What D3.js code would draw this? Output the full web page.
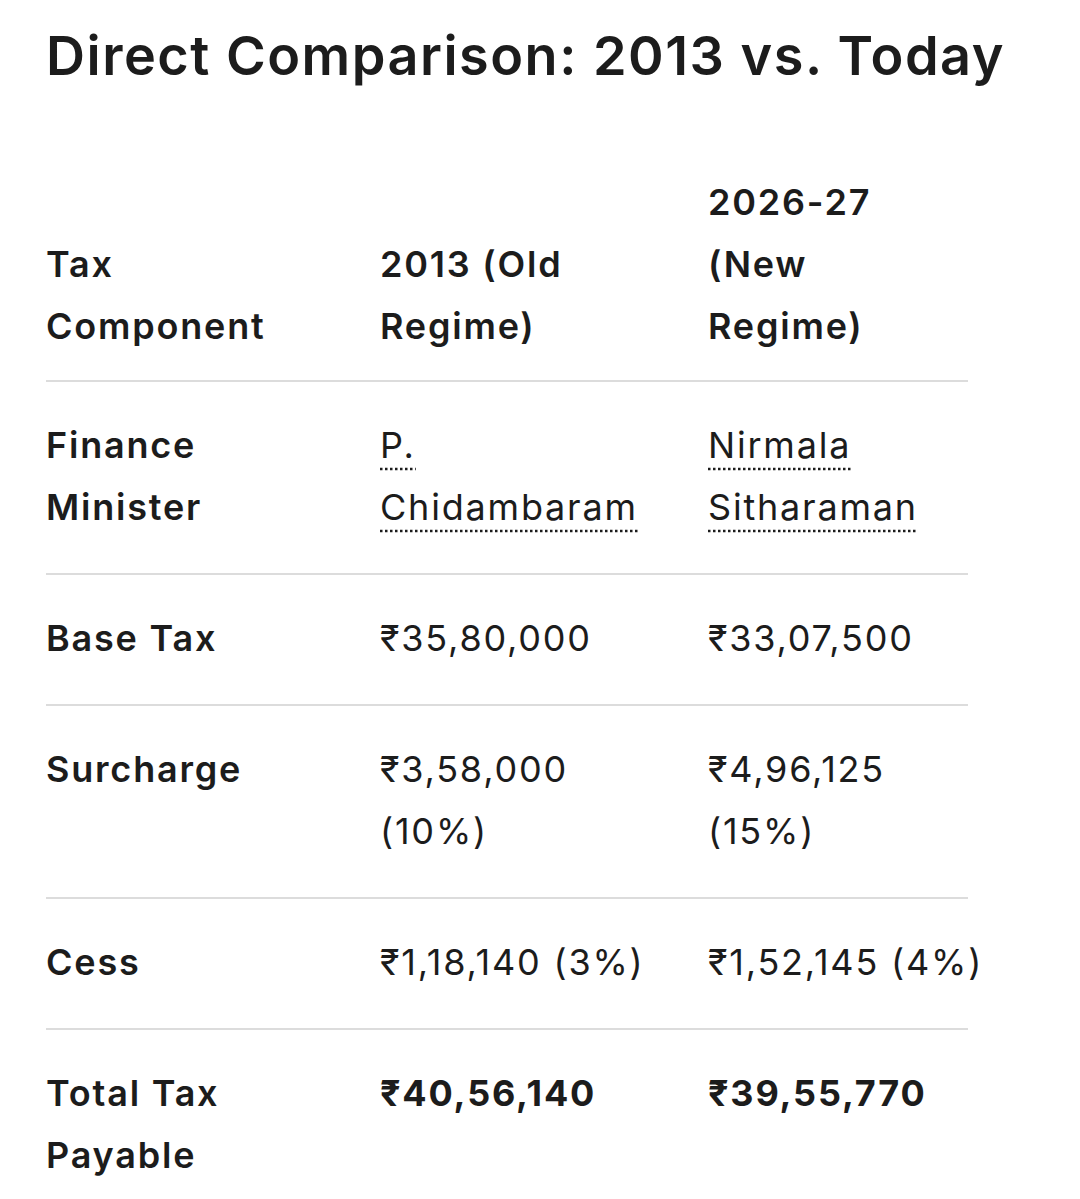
<!DOCTYPE html>
<html><head><meta charset="utf-8">
<script src="https://cdn.jsdelivr.net/npm/d3@7"></script>
<style>body{margin:0;background:#fff}</style>
</head><body>
<script>
const title = "Direct Comparison: 2013 vs. Today";
const headers = [["Tax", "Component"], ["2013 (Old", "Regime)"], ["2026-27", "(New", "Regime)"]];
const labels = [["Finance", "Minister"], ["Base Tax"], ["Surcharge"], ["Cess"], ["Total Tax", "Payable"]];
const oldRegime = [["P.", "Chidambaram"], ["₹35,80,000"], ["₹3,58,000", "(10%)"], ["₹1,18,140 (3%)"], ["₹40,56,140"]];
const newRegime = [["Nirmala", "Sitharaman"], ["₹33,07,500"], ["₹4,96,125", "(15%)"], ["₹1,52,145 (4%)"], ["₹39,55,770"]];

const W = 1080, H = 1199, lh = 62, font = "Inter, 'Noto Sans', sans-serif";
const colX = [46, 380, 708];
const svg = d3.select("body").append("svg").attr("width", W).attr("height", H)
  .attr("font-family", font).attr("fill", "#1c1c1c");

svg.append("text").attr("x", 46).attr("y", 75).attr("font-size", 54).attr("font-weight", 600)
  .attr("letter-spacing", 1.5).text(title);

function cell(lines, x, yTop, weight, dotted) {
  lines.forEach((t, i) => {
    const y = yTop + i * lh;
    const el = svg.append("text").attr("x", x).attr("y", y).attr("font-size", 36)
      .attr("letter-spacing", 1.8).attr("font-weight", weight).text(t);
    if (dotted) {
      const w = el.node().getComputedTextLength();
      svg.append("line").attr("x1", x).attr("x2", x + w).attr("y1", y + 11).attr("y2", y + 11)
        .attr("stroke", "#1c1c1c").attr("stroke-width", 2.5).attr("stroke-dasharray", "2.5,2.5");
    }
  });
}

const headerBottom = 339;
headers.forEach((h, i) => cell(h, colX[i], headerBottom - (h.length - 1) * lh, 600, false));
const sep = (y) => svg.append("line").attr("x1", 46).attr("x2", 968).attr("y1", y).attr("y2", y)
  .attr("stroke", "#dcdcdc").attr("stroke-width", 2);
let y = 381;
sep(y);
labels.forEach((lab, r) => {
  const n = Math.max(lab.length, oldRegime[r].length, newRegime[r].length);
  const base = y + 77;
  const last = r === labels.length - 1;
  cell(lab, colX[0], base, 600, false);
  cell(oldRegime[r], colX[1], base, last ? 700 : 400, r === 0);
  cell(newRegime[r], colX[2], base, last ? 700 : 400, r === 0);
  y = base + (n - 1) * lh + 54;
  if (!last) sep(y);
});
</script>
</body></html>
